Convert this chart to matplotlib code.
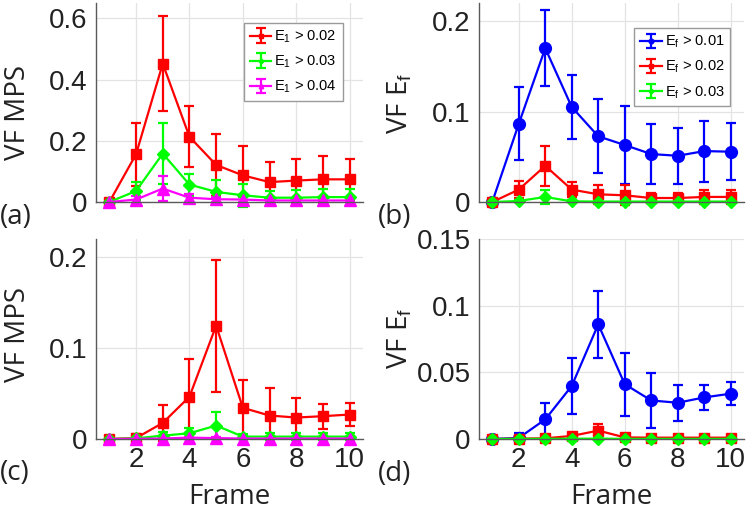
import matplotlib
matplotlib.use("Agg")
import matplotlib.pyplot as plt
import numpy as np

plt.rcParams["mathtext.fontset"] = "custom"
plt.rcParams["mathtext.rm"] = "Liberation Sans"
plt.rcParams["mathtext.it"] = "Liberation Sans:italic"

frames = np.arange(1, 11)

# (a) VF MPS, E1 thresholds
a_red = [0, 0.156, 0.452, 0.213, 0.121, 0.087, 0.065, 0.070, 0.074, 0.074]
a_red_err = [0, 0.103, 0.155, 0.100, 0.102, 0.095, 0.066, 0.072, 0.076, 0.066]
a_green = [0, 0.036, 0.158, 0.057, 0.033, 0.022, 0.014, 0.014, 0.016, 0.016]
a_green_err = [0, 0.028, 0.100, 0.036, 0.038, 0.038, 0.022, 0.024, 0.025, 0.025]
a_mag = [0, 0.008, 0.044, 0.014, 0.009, 0.008, 0.005, 0.005, 0.005, 0.005]
a_mag_err = [0, 0.010, 0.040, 0.013, 0.008, 0.008, 0.006, 0.006, 0.006, 0.006]

# (b) VF Ef thresholds
b_blue = [0, 0.0863, 0.170, 0.105, 0.0726, 0.063, 0.053, 0.0511, 0.0563, 0.0556]
b_blue_err = [0, 0.0404, 0.042, 0.035, 0.041, 0.0426, 0.033, 0.031, 0.0337, 0.0315]
b_red = [0, 0.0137, 0.040, 0.0137, 0.0085, 0.0074, 0.0044, 0.0044, 0.0056, 0.0056]
b_red_err = [0, 0.0096, 0.022, 0.0085, 0.0105, 0.011, 0.005, 0.0055, 0.0074, 0.0074]
b_green = [0, 0.0011, 0.0056, 0.0007, 0.0005, 0.0005, 0.0005, 0.0005, 0.0005, 0.0005]
b_green_err = [0, 0.001, 0.0074, 0.001, 0.0008, 0.0008, 0.0008, 0.0008, 0.0008, 0.0008]

# (c) VF MPS
c_red = [0, 0.001, 0.0177, 0.0465, 0.1247, 0.0343, 0.0258, 0.0236, 0.0251, 0.0269]
c_red_err = [0, 0.004, 0.020, 0.0413, 0.0725, 0.031, 0.030, 0.022, 0.0137, 0.013]
c_green = [0, 0.0007, 0.0037, 0.0063, 0.0148, 0.0026, 0.0026, 0.0026, 0.0026, 0.0026]
c_green_err = [0, 0.001, 0.0037, 0.0059, 0.015, 0.0024, 0.004, 0.004, 0.004, 0.004]
c_mag = [0, 0.0002, 0.0005, 0.0015, 0.001, 0.0005, 0.0005, 0.0005, 0.0005, 0.0005]
c_mag_err = [0, 0.0003, 0.0005, 0.001, 0.001, 0.0005, 0.0005, 0.0005, 0.0005, 0.0005]

# (d) VF Ef
d_blue = [0, 0.0008, 0.0147, 0.0398, 0.086, 0.0411, 0.0289, 0.0272, 0.0312, 0.034]
d_blue_err = [0, 0.0035, 0.0125, 0.0213, 0.025, 0.0235, 0.0204, 0.0135, 0.0093, 0.0085]
d_red = [0, 0.0003, 0.0005, 0.0023, 0.0063, 0.0012, 0.001, 0.001, 0.001, 0.001]
d_red_err = [0, 0.0003, 0.0005, 0.002, 0.0048, 0.001, 0.0008, 0.0008, 0.0008, 0.0008]
d_green = [0, 0.0001, 0.0001, 0.0002, 0.0003, 0.0001, 0.0001, 0.0001, 0.0001, 0.0001]
d_green_err = [0, 0.0002, 0.0002, 0.0002, 0.0003, 0.0002, 0.0002, 0.0002, 0.0002, 0.0002]

mps_labels = [r"E$_\mathrm{1}$ > 0.02", r"E$_\mathrm{1}$ > 0.03", r"E$_\mathrm{1}$ > 0.04"]
ef_labels = [r"E$_\mathrm{f}$ > 0.01", r"E$_\mathrm{f}$ > 0.02", r"E$_\mathrm{f}$ > 0.03"]

RED, GREEN, MAG, BLUE = "#ff0000", "#00ff00", "#ff00ff", "#0000ff"
AXC = "#5a5a5a"

fig = plt.figure(figsize=(7.5, 5.13), dpi=100)
W, H = 750, 513


def px_axes(x0, x1, ytop, ybot):
    return fig.add_axes([x0 / W, 1 - ybot / H, (x1 - x0) / W, (ybot - ytop) / H])


ax_a = px_axes(96, 363, 3, 202)
ax_b = px_axes(479, 744, 3, 202)
ax_c = px_axes(96, 363, 239, 439)
ax_d = px_axes(479, 744, 239, 439)


def draw(ax, series, ylim, yticks, yticklabels, show_x):
    for y, err, color, marker, ms, lab in series:
        h = ax.errorbar(frames, y, yerr=err, color=color, marker=marker, ms=ms,
                        lw=1.6, elinewidth=1.6, capsize=3.6, capthick=1.6,
                        label=lab, clip_on=False)
        h.lines[0].set_clip_on(False)
    ax.set_xlim(0.5, 10.5)
    ax.set_ylim(*ylim)
    ax.set_xticks([2, 4, 6, 8, 10])
    ax.set_yticks(yticks)
    ax.set_yticklabels(yticklabels, family="Liberation Sans", fontsize=20, color="#222222")
    if show_x:
        ax.set_xticklabels(["2", "4", "6", "8", "10"], family="Liberation Sans",
                           fontsize=20, color="#222222")
    else:
        ax.set_xticklabels([])
    ax.grid(True, color="#e3e3e3", lw=0.9)
    ax.set_axisbelow(True)
    for s in ["top", "right"]:
        ax.spines[s].set_visible(False)
    for s in ["left", "bottom"]:
        ax.spines[s].set_color(AXC)
        ax.spines[s].set_linewidth(1.0)
    ax.tick_params(length=0, pad=6)


draw(ax_a, [(a_red, a_red_err, RED, "s", 7.5, mps_labels[0]),
            (a_green, a_green_err, GREEN, "D", 6.5, mps_labels[1]),
            (a_mag, a_mag_err, MAG, "^", 8, mps_labels[2])],
     (0, 0.65), [0, 0.2, 0.4, 0.6], ["0", "0.2", "0.4", "0.6"], False)
draw(ax_b, [(b_blue, b_blue_err, BLUE, "o", 8.5, ef_labels[0]),
            (b_red, b_red_err, RED, "s", 7.5, ef_labels[1]),
            (b_green, b_green_err, GREEN, "D", 6.5, ef_labels[2])],
     (0, 0.22), [0, 0.1, 0.2], ["0", "0.1", "0.2"], False)
draw(ax_c, [(c_red, c_red_err, RED, "s", 7.5, mps_labels[0]),
            (c_green, c_green_err, GREEN, "D", 6.5, mps_labels[1]),
            (c_mag, c_mag_err, MAG, "^", 8, mps_labels[2])],
     (0, 0.22), [0, 0.1, 0.2], ["0", "0.1", "0.2"], True)
draw(ax_d, [(d_blue, d_blue_err, BLUE, "o", 8.5, ef_labels[0]),
            (d_red, d_red_err, RED, "s", 7.5, ef_labels[1]),
            (d_green, d_green_err, GREEN, "D", 6.5, ef_labels[2])],
     (0, 0.15), [0, 0.05, 0.1, 0.15], ["0", "0.05", "0.1", "0.15"], True)

for ax, anchor in [(ax_a, (0.925, 0.9)), (ax_b, (0.947, 0.874))]:
    leg = ax.legend(loc="upper right", bbox_to_anchor=anchor, fancybox=False,
                    framealpha=1, edgecolor="#9a9a9a", markerscale=0.4,
                    prop={"family": "Liberation Sans", "size": 10.5},
                    handlelength=1.5, handletextpad=0.2, labelspacing=0.6,
                    borderpad=0.4, borderaxespad=0)
    leg.get_frame().set_linewidth(1.0)

lab = dict(family="Open Sans", fontsize=20, color="#222222", rotation=90,
           ha="center", va="center")
fig.text(18 / W, 1 - 113 / H, "VF MPS", **lab)
fig.text(400 / W, 1 - 103 / H, r"VF E$_\mathrm{f}$", **lab)
fig.text(18 / W, 1 - 334 / H, "VF MPS", **lab)
fig.text(400 / W, 1 - 338 / H, r"VF E$_\mathrm{f}$", **lab)

xl = dict(family="Open Sans", fontsize=20, color="#222222", ha="center", va="center")
fig.text(229 / W, 1 - 497 / H, "Frame", **xl)
fig.text(611 / W, 1 - 497 / H, "Frame", **xl)

pl = dict(family="Open Sans", fontsize=20, color="#222222", ha="left", va="center")
fig.text(0 / W, 1 - 217 / H, "(a)", **pl)
fig.text(378 / W, 1 - 217 / H, "(b)", **pl)
fig.text(0 / W, 1 - 473 / H, "(c)", **pl)
fig.text(378 / W, 1 - 474 / H, "(d)", **pl)

fig.savefig("out.png", dpi=100)
